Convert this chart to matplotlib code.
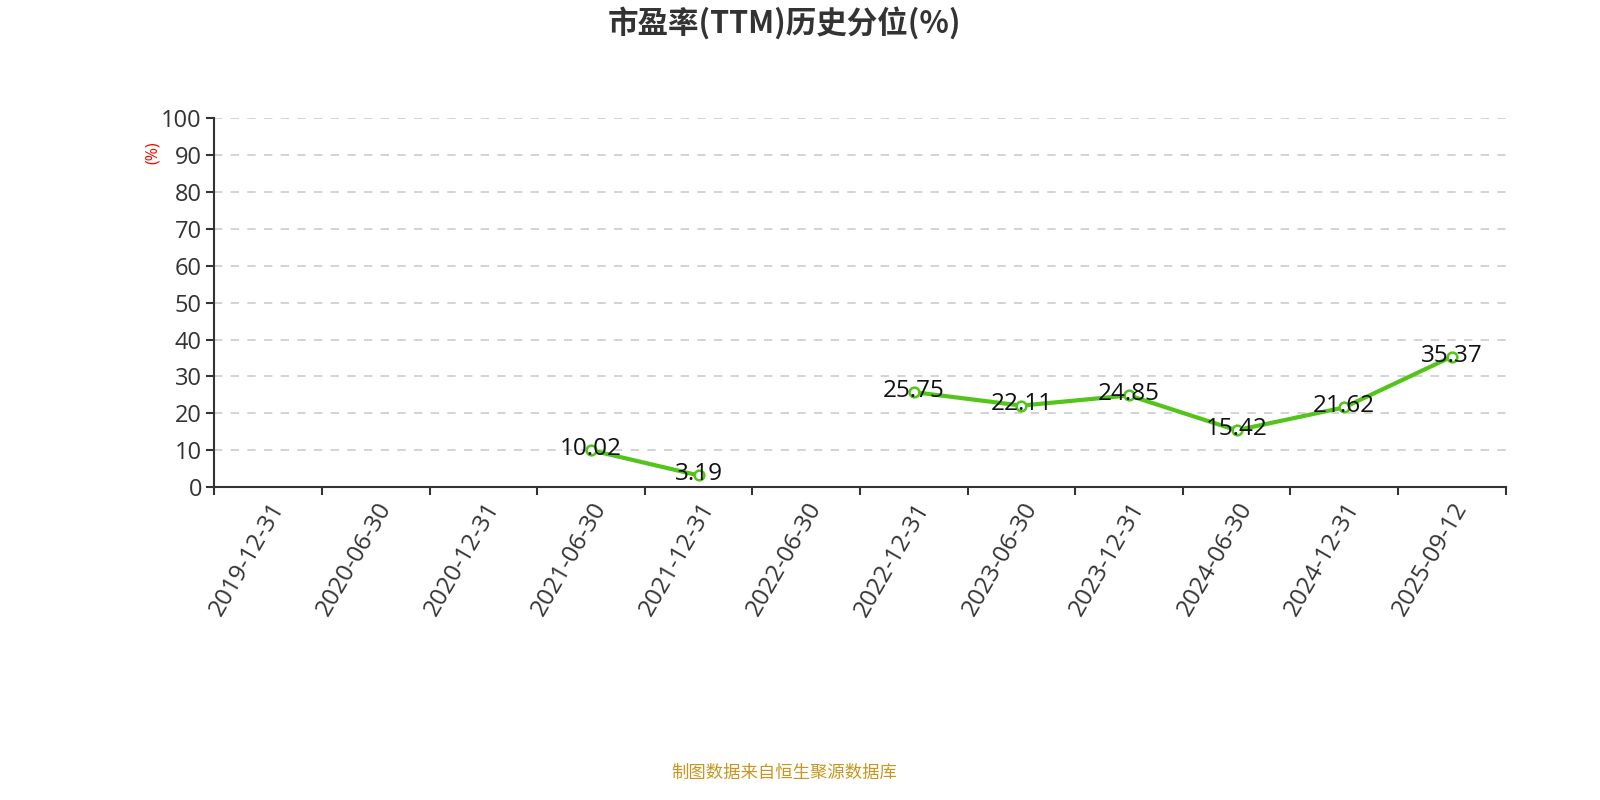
import matplotlib.pyplot as plt
import numpy as np

plt.rcParams['font.family'] = ['Open Sans', 'Noto Sans CJK SC', 'DejaVu Sans']

dates = ['2019-12-31', '2020-06-30', '2020-12-31', '2021-06-30', '2021-12-31', '2022-06-30',
         '2022-12-31', '2023-06-30', '2023-12-31', '2024-06-30', '2024-12-31', '2025-09-12']
values = [None, None, None, 10.02, 3.19, None, 25.75, 22.11, 24.85, 15.42, 21.62, 35.37]
labels = ['', '', '', '10.02', '3.19', '', '25.75', '22.11', '24.85', '15.42', '21.62', '35.37']

y = np.array([np.nan if v is None else v for v in values])
x = np.arange(len(dates)) + 0.5

fig = plt.figure(figsize=(16, 8), dpi=100)
ax = fig.add_axes([0.134, 0.391, 0.807, 0.4615])

ax.plot(x, y, color='#52c41a', linewidth=3, marker='o', markersize=7,
        markerfacecolor='white', markeredgecolor='#52c41a', markeredgewidth=1.8, zorder=3)
for xi, yi, lab in zip(x, y, labels):
    if lab:
        ax.text(xi, yi + 0.3, lab, ha='center', va='center', fontsize=17.5, color='#111111', zorder=4)

ax.set_xlim(0, len(dates))
ax.set_ylim(0, 100)
ax.set_yticks(range(0, 101, 10))
ax.set_xticks(range(len(dates) + 1))
ax.set_xticklabels([])
ax.set_xticks(x, minor=True)
ax.set_xticklabels(dates, minor=True, rotation=60, ha='right', rotation_mode='anchor',
                   fontsize=17.5, color='#333333')
ax.tick_params(axis='x', which='minor', length=0, pad=8)
ax.tick_params(axis='x', which='major', length=6, width=1.5, color='#333333')
ax.tick_params(axis='y', length=6, width=1.5, color='#333333', labelsize=17, labelcolor='#333333',
               pad=3)

ax.grid(axis='y', linestyle=(0, (5, 5)), color='#cccccc', linewidth=1.2)
ax.set_axisbelow(True)
for s in ['top', 'right']:
    ax.spines[s].set_visible(False)
for s in ['left', 'bottom']:
    ax.spines[s].set_color('#333333')
    ax.spines[s].set_linewidth(1.5)

ax.text(-0.048, 0.905, '(%)', transform=ax.transAxes, rotation=90, ha='center', va='center',
        fontsize=11.5, color='red')

fig.text(0.49, 0.971, '市盈率(TTM)历史分位(%)', ha='center', va='center', fontsize=22,
         fontweight='bold', color='#333333', family=['Noto Sans CJK SC', 'DejaVu Sans'])
fig.text(0.49, 0.034, '制图数据来自恒生聚源数据库', ha='center', va='center', fontsize=12.5,
         color='#c8961e', family=['Noto Sans CJK SC', 'DejaVu Sans'])

fig.savefig('out.png', dpi=100)
